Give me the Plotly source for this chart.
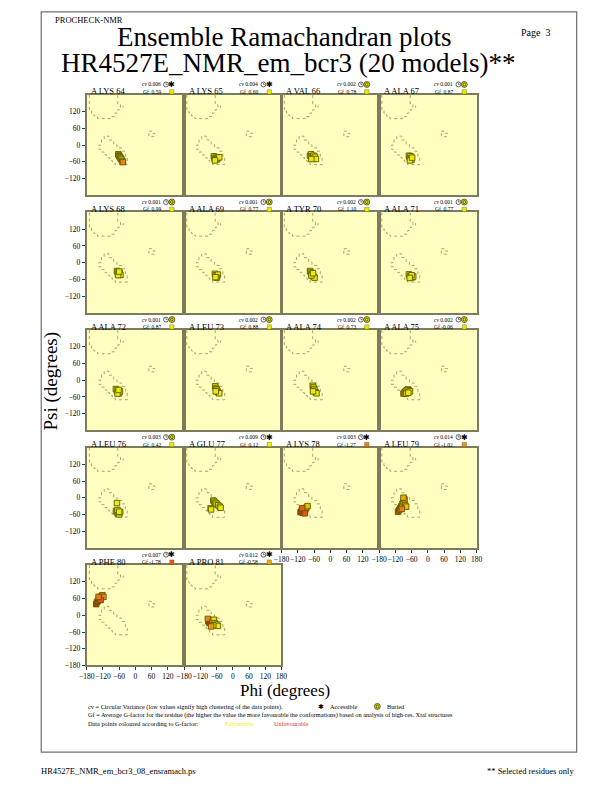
import plotly.graph_objects as go

W, H = 612, 792

# ---------------- data ----------------
residues = ["A LYS 64", "A LYS 65", "A VAL 66", "A ALA 67",
            "A LYS 68", "A ALA 69", "A TYR 70", "A ALA 71",
            "A ALA 72", "A LEU 73", "A ALA 74", "A ALA 75",
            "A LEU 76", "A GLU 77", "A LYS 78", "A LEU 79",
            "A PHE 80", "A PRO 81"]
cv_values = ["0.006", "0.004", "0.002", "0.001",
             "0.001", "0.001", "0.002", "0.001",
             "0.001", "0.002", "0.002", "0.002",
             "0.003", "0.009", "0.003", "0.014",
             "0.007", "0.012"]
gf_values = [0.59, 0.60, 0.78, 0.87,
             0.99, 0.77, 1.10, 0.77,
             0.87, 0.88, 0.73, -0.06,
             0.42, 0.12, -1.27, -1.02,
             -1.78, -0.58]
accessible = [True, True, False, False,
              False, False, False, False,
              False, False, False, False,
              False, True, True, True,
              True, True]

# per-residue phi / psi of the model points and each point's G-factor
phi_points = [
    [-63, -61, -59, -57, -55, -53, -51, -48, -46],
    [-70, -68, -65, -62, -60, -57, -54, -50, -66],
    [-75, -71, -68, -65, -62, -60, -57, -53, -70],
    [-70, -67, -64, -62, -60, -66, -58],
    [-68, -65, -62, -58, -55, -64, -60],
    [-66, -62, -58, -55, -60, -64],
    [-75, -72, -69, -66, -62, -58, -70, -64],
    [-70, -66, -62, -58, -54, -60, -67],
    [-72, -68, -64, -60, -57, -66, -62],
    [-65, -62, -60, -57, -54, -50, -63],
    [-65, -62, -60, -57, -54, -51, -64],
    [-90, -86, -82, -78, -74, -70, -66, -80, -72],
    [-68, -72, -68, -64, -60, -56, -66, -60],
    [-72, -68, -64, -60, -54, -48, -45, -82, -80],
    [-110, -106, -102, -100, -96, -92, -88, -84, -104, -94],
    [-110, -106, -102, -98, -94, -90, -86, -84, -80, -96, -90],
    [-145, -142, -138, -134, -130, -126, -122, -118, -128, -136],
    [-90, -86, -92, -76, -70, -66, -60, -55, -72, -80],
]
psi_points = [
    [-33, -37, -40, -43, -46, -49, -52, -57, -61],
    [-40, -46, -50, -45, -52, -48, -44, -44, -55],
    [-38, -33, -40, -45, -38, -48, -42, -50, -50],
    [-38, -44, -40, -48, -53, -55, -45],
    [-30, -35, -40, -36, -44, -45, -32],
    [-40, -45, -50, -43, -54, -52],
    [-30, -35, -40, -45, -50, -54, -46, -38],
    [-42, -47, -50, -53, -50, -45, -55],
    [-32, -37, -42, -47, -40, -48, -35],
    [-22, -28, -33, -38, -44, -47, -40],
    [-20, -26, -32, -38, -44, -47, -40],
    [-48, -44, -40, -36, -33, -36, -40, -48, -45],
    [-19, -48, -52, -56, -60, -52, -44, -50],
    [-10, -14, -18, -22, -27, -32, -36, -38, -42],
    [-52, -46, -54, -40, -48, -42, -35, -30, -38, -56],
    [-50, -44, -38, -30, -22, -14, -6, -26, -32, -40, 0],
    [40, 47, 52, 58, 63, 68, 72, 66, 55, 66],
    [-22, -28, -13, -26, -16, -28, -33, -38, -36, -40],
]
g_points = [
    [0.7, 0.7, 0.6, 0.6, 0.5, 0.4, 0.3, -0.8, -1.3],
    [0.7, 0.7, 0.6, 0.6, 0.5, 0.6, 0.5, 0.3, 0.6],
    [0.8, 0.8, 0.8, 0.8, 0.8, 0.8, 0.8, 0.7, 0.8],
    [0.9, 0.9, 0.9, 0.9, 0.9, 0.9, 0.9],
    [1.0, 1.0, 1.0, 1.0, 1.0, 1.0, 1.0],
    [0.8, 0.8, 0.8, 0.8, 0.8, 0.8],
    [1.0, 1.0, 1.1, 1.1, 1.1, 1.0, 1.0, 1.0],
    [0.8, 0.8, 0.8, 0.8, 0.8, 0.8, 0.8],
    [0.9, 0.9, 0.9, 0.9, 0.9, 0.9, 0.9],
    [0.9, 0.9, 0.9, 0.9, 0.9, 0.8, 0.9],
    [0.8, 0.8, 0.7, 0.7, 0.7, 0.7, 0.7],
    [-0.9, -0.6, -0.1, 0.2, 0.3, 0.3, 0.2, -0.4, 0.1],
    [0.5, 0.4, 0.4, 0.4, 0.4, 0.4, 0.4, 0.4],
    [0.3, 0.2, 0.2, 0.1, 0.1, 0.1, 0.1, 0.1, 0.1],
    [-2.2, -1.9, -2.0, -1.5, -1.6, -1.2, -0.8, -0.4, -1.7, -1.8],
    [-2.0, -1.7, -1.3, -1.0, -0.8, -0.6, -0.5, -0.6, -0.4, -1.4, -0.7],
    [-2.4, -2.2, -1.9, -1.7, -1.5, -1.4, -1.3, -1.2, -1.8, -1.5],
    [-2.5, -2.5, -1.3, -0.7, 0.0, 0.3, 0.5, 0.6, -0.3, -0.9],
]

# core-region outlines (phi, psi)
beta_phi = [-170, -170, -162, -162, -153, -153, -140, -140, -90, -90, -75, -75,
            -65, -65, -55, -55, -65, -65]
beta_psi = [180, 125, 125, 115, 115, 105, 105, 95, 95, 102, 102, 115,
            115, 127, 127, 145, 145, 180]
alpha_phi = [-115, -115, -125, -125, -135, -135, -125, -125, -115, -115, -105, -105,
             -95, -95, -85, -85, -75, -75, -30, -30, -37, -37, -50, -50,
             -68, -68, -80, -80, -98, -98, -115]
alpha_psi = [32, 20, 20, 0, 0, -15, -15, -25, -25, -35, -35, -45,
             -45, -55, -55, -63, -63, -70, -70, -40, -40, -22, -22, -10,
             -10, 2, 2, 18, 18, 32, 32]
alphal_phi = [50, 65, 65, 72, 72, 50, 50]
alphal_psi = [50, 50, 42, 42, 30, 30, 50]
dot_phi = [-45, -45]
dot_psi = [134, 142]

axis_ticks = [-180, -120, -60, 0, 60, 120, 180]
axis_ticks_shared = [-180, -120, -60, 0, 60, 120]

# ---------------- helpers ----------------
def px(x):
    return x / W


def py(y):
    return 1 - y / H


scale_stops = [(-3.0, (208, 0, 0)), (-2.0, (224, 64, 16)), (-1.5, (240, 112, 32)),
               (-1.0, (240, 144, 32)), (-0.5, (240, 180, 0)), (0.0, (236, 236, 0))]


def g_color(g):
    if g <= scale_stops[0][0]:
        c = scale_stops[0][1]
    elif g >= scale_stops[-1][0]:
        c = scale_stops[-1][1]
    else:
        for (a, ca), (b, cb) in zip(scale_stops[:-1], scale_stops[1:]):
            if a <= g <= b:
                t = (g - a) / (b - a)
                c = tuple(int(round(ca[k] + t * (cb[k] - ca[k]))) for k in range(3))
                break
    return "rgb(%d,%d,%d)" % c


SERIF = "'Liberation Serif', 'Times New Roman', 'DejaVu Serif', serif"
SYM = "'DejaVu Sans', sans-serif"
BORDER = "#7c7c5c"
OUTLINE = "#a09a5c"

fig = go.Figure()
shapes = []
annotations = []
layout = {}

col_left = [80.5, 180.2, 280.0, 379.8]
panel_w = 99.7
row_top = [95.5, 213.8, 332.1, 450.4, 568.7]
panel_h = 101.0

n = len(residues)
last_in_col = {}
for i in range(n):
    last_in_col[i % 4] = i

for i in range(n):
    r, c = divmod(i, 4)
    L = col_left[c]
    R = L + panel_w
    T = row_top[r]
    B = T + panel_h
    k = "" if i == 0 else str(i + 1)
    xa, ya = "x" + k, "y" + k
    show_x = last_in_col[c] == i
    show_y = c == 0
    nb = i + 1
    shared = (c < 3 and nb < n and last_in_col[nb % 4] == nb and nb // 4 == r)
    xt = axis_ticks_shared if shared else axis_ticks
    ytickvals = [-120, -60, 0, 60, 120] + ([-180] if show_x else [])
    layout["xaxis" + k] = dict(
        domain=[px(L), px(R)], anchor=ya, range=[-180, 180],
        showgrid=False, zeroline=False, showline=True, mirror=True,
        linecolor=BORDER, linewidth=2,
        tickvals=xt if show_x else [],
        ticks="outside" if show_x else "", ticklen=3, tickcolor="#333333",
        showticklabels=show_x, tickangle=0,
        tickfont=dict(family=SERIF, size=7.5, color="black"),
    )
    layout["yaxis" + k] = dict(
        domain=[py(B), py(T)], anchor=xa, range=[-180, 180],
        showgrid=False, zeroline=False, showline=True, mirror=True,
        linecolor=BORDER, linewidth=2,
        tickvals=ytickvals if show_y else [],
        ticks="outside" if show_y else "", ticklen=3, tickcolor="#333333",
        showticklabels=show_y,
        tickfont=dict(family=SERIF, size=7.5, color="black"),
    )
    for xs, ys in ((beta_phi, beta_psi), (alpha_phi, alpha_psi),
                   (alphal_phi, alphal_psi), (dot_phi, dot_psi)):
        fig.add_trace(go.Scatter(
            x=xs, y=ys, xaxis=xa, yaxis=ya, mode="lines",
            line=dict(color=OUTLINE, width=0.9, dash="dot"),
            hoverinfo="skip", showlegend=False))
    fig.add_trace(go.Scatter(
        x=phi_points[i], y=psi_points[i], xaxis=xa, yaxis=ya, mode="markers",
        marker=dict(symbol="square", size=5.5,
                    color=[g_color(g) for g in g_points[i]],
                    line=dict(color="#5c5a00", width=0.9)),
        showlegend=False))

    annotations.append(dict(x=px(L + 2.5), y=py(T - 3.5), xref="paper", yref="paper",
                            text=residues[i], showarrow=False, xanchor="left",
                            yanchor="middle", font=dict(family=SERIF, size=8.5, color="black")))
    annotations.append(dict(x=px(R - 22), y=py(T - 10.5), xref="paper", yref="paper",
                            text="<i>cv</i> " + cv_values[i], showarrow=False, xanchor="right",
                            yanchor="middle", font=dict(family=SERIF, size=5.5, color="black")))
    gtxt = ("Gf %.2f" % gf_values[i]) if gf_values[i] < 0 else ("Gf  %.2f" % gf_values[i])
    annotations.append(dict(x=px(R - 22), y=py(T - 3), xref="paper", yref="paper",
                            text=gtxt, showarrow=False, xanchor="right",
                            yanchor="middle", font=dict(family=SERIF, size=5.5, color="black")))
    cx, cy = R - 18.5, T - 10.5
    shapes.append(dict(type="circle", xref="paper", yref="paper",
                       x0=px(cx - 2.5), x1=px(cx + 2.5), y0=py(cy + 2.5), y1=py(cy - 2.5),
                       line=dict(color="black", width=0.6), fillcolor="white"))
    shapes.append(dict(type="line", xref="paper", yref="paper",
                       x0=px(cx), x1=px(cx), y0=py(cy), y1=py(cy - 1.8),
                       line=dict(color="black", width=0.5)))
    shapes.append(dict(type="line", xref="paper", yref="paper",
                       x0=px(cx), x1=px(cx + 1.4), y0=py(cy), y1=py(cy),
                       line=dict(color="black", width=0.5)))
    ax_, ay_ = R - 12.5, T - 10.5
    if accessible[i]:
        annotations.append(dict(x=px(ax_), y=py(ay_), xref="paper", yref="paper",
                                text="✱", showarrow=False, xanchor="center", yanchor="middle",
                                font=dict(family=SYM, size=8, color="black")))
    else:
        shapes.append(dict(type="circle", xref="paper", yref="paper",
                           x0=px(ax_ - 3), x1=px(ax_ + 3), y0=py(ay_ + 3), y1=py(ay_ - 3),
                           line=dict(color="black", width=0.6), fillcolor="#f0f000"))
        shapes.append(dict(type="circle", xref="paper", yref="paper",
                           x0=px(ax_ - 1.3), x1=px(ax_ + 1.3), y0=py(ay_ + 1.6), y1=py(ay_ - 1.6),
                           line=dict(color="black", width=0.6), fillcolor="#f0f000"))
    sx, sy = R - 12.5, T - 3
    shapes.append(dict(type="rect", xref="paper", yref="paper",
                       x0=px(sx - 2.2), x1=px(sx + 2.2), y0=py(sy + 2.2), y1=py(sy - 2.2),
                       line=dict(color="#606000", width=0.4), fillcolor=g_color(gf_values[i])))

# page frame
shapes.append(dict(type="rect", xref="paper", yref="paper",
                   x0=px(34), x1=px(582), y0=py(757), y1=py(12),
                   line=dict(color="#707070", width=1.2)))


def txt(x, y, s, size, anchor="left", color="black", family=SERIF, angle=0, yanchor="middle"):
    annotations.append(dict(x=px(x), y=py(y), xref="paper", yref="paper", text=s,
                            showarrow=False, xanchor=anchor, yanchor=yanchor,
                            textangle=angle, font=dict(family=family, size=size, color=color)))


txt(46, 20, "PROCHECK-NMR", 8.5)
txt(523, 33, "Page  3", 10)
txt(282, 37, "Ensemble Ramachandran plots", 27, "center")
txt(287, 63, "HR4527E_NMR_em_bcr3 (20 models)**", 27, "center")
txt(44, 383, "Psi (degrees)", 19, "center", angle=-90)
txt(283, 683, "Phi (degrees)", 17, "center", yanchor="top")

txt(80, 711, "cv = Circular Variance (low values signify high clustering of the data points).", 6.3)
txt(320, 711, "✱", 7, "center", family=SYM)
txt(327, 711, "Accessible", 6.3)
shapes.append(dict(type="circle", xref="paper", yref="paper",
                   x0=px(375), x1=px(381), y0=py(714), y1=py(708),
                   line=dict(color="black", width=0.6), fillcolor="#f0f000"))
shapes.append(dict(type="circle", xref="paper", yref="paper",
                   x0=px(376.7), x1=px(379.3), y0=py(712.6), y1=py(709.4),
                   line=dict(color="black", width=0.6), fillcolor="#f0f000"))
txt(386, 711, "Buried", 6.3)
txt(80, 719.5, "Gf = Average G-factor for the residue (the higher the value the more favourable "
               "the conformations) based on analysis of high-res. Xtal structures", 6.3)
txt(80, 728, "Data points coloured according to G-factor:", 6.3)
txt(220, 728, "Favourable", 6.3, color="#f0f000")
txt(270, 728, "Unfavourable", 6.3, color="#e03030")

txt(32, 776, "HR4527E_NMR_em_bcr3_08_ensramach.ps", 8.5)
txt(581, 776, "** Selected residues only", 8.5, "right")

layout.update(dict(
    width=W, height=H, margin=dict(l=0, r=0, t=0, b=0),
    paper_bgcolor="white", plot_bgcolor="#ffffbf",
    shapes=shapes, annotations=annotations, showlegend=False,
))
fig.update_layout(**layout)
fig.write_html(
    "out.html",
    config={"responsive": False, "displayModeBar": False},
    post_script=(
        "var d=document.getElementById('{plot_id}');"
        "d.style.position='absolute';d.style.left='0px';d.style.top='0px';"
        "document.body.style.margin='0px';"
        "document.body.style.overflow='hidden';"
        "document.documentElement.style.overflow='hidden';"
    ),
)
